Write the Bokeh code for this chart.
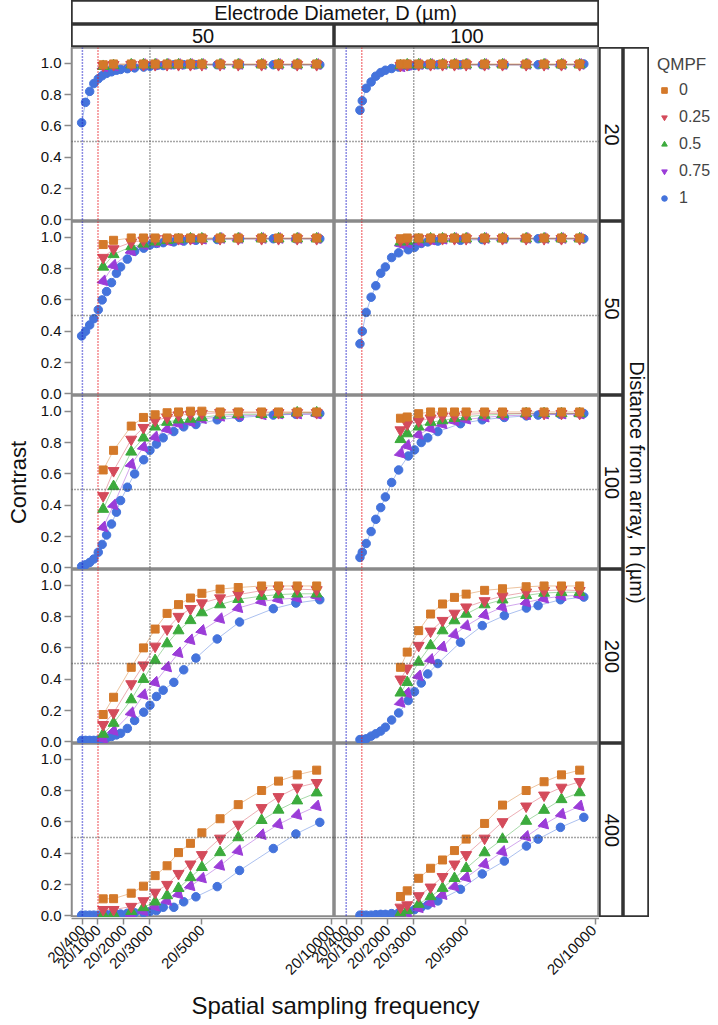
import math
from bokeh.plotting import figure
from bokeh.models import (ColumnDataSource, Span, Label, Legend, LegendItem,
                          FixedTicker, Range1d, GridBox)
from bokeh.embed import file_html
from bokeh.resources import INLINE

# ---------------- data ----------------
QMPF = ["0", "0.25", "0.5", "0.75", "1"]
DIAMETERS = ["50", "100"]
DISTANCES = ["20", "50", "100", "200", "400"]

X_TICKS = [400, 1000, 2000, 3000, 5000, 10000]
X_TICK_LABELS = ["20/400", "20/1000", "20/2000", "20/3000", "20/5000", "20/10000"]
Y_TICKS = [0.0, 0.2, 0.4, 0.6, 0.8, 1.0]
REF_X = [400, 1000, 3000]
REF_Y = [0.5]

# x positions (denominator of 20/x)
x_d50 = [1200, 1600, 2280, 2750, 3200, 3660, 4100, 4560, 5000, 5700, 6400, 7300, 7950, 8670, 9420]
x_d50_q1 = [370, 520, 680, 840, 1010, 1160, 1330, 1520, 1710, 1870, 2130, 2410, 2760, 3000,
            3250, 3510, 3920, 4300, 4770, 5590, 6450, 7750, 8620, 9540]
x_d100 = [2490, 2750, 3190, 3650, 4110, 4570, 5020, 5730, 6420, 7330, 8020, 8690, 9390]
x_d100_q1 = [930, 1020, 1170, 1360, 1540, 1730, 1910, 2150, 2420, 2790, 3030, 3290, 3540, 3930,
             4800, 5640, 6490, 7340, 7790, 8650, 9550]

# D = 50
d50_h20_q0 = [0.99, 0.995, 0.995, 0.995, 0.995, 0.995, 0.995, 0.995, 0.995, 0.995, 0.995, 0.995, 0.995, 0.995, 0.995]
d50_h20_q025 = [0.985, 0.99, 0.99, 0.99, 0.99, 0.99, 0.99, 0.99, 0.99, 0.99, 0.99, 0.99, 0.99, 0.99, 0.99]
d50_h20_q05 = [0.98, 0.985, 0.99, 0.99, 0.99, 0.99, 0.99, 0.99, 0.99, 0.99, 0.99, 0.99, 0.99, 0.99, 0.99]
d50_h20_q075 = [0.975, 0.98, 0.985, 0.99, 0.99, 0.99, 0.99, 0.99, 0.99, 0.99, 0.99, 0.99, 0.99, 0.99, 0.99]
d50_h20_q1 = [0.62, 0.75, 0.82, 0.87, 0.90, 0.92, 0.935, 0.945, 0.955, 0.96, 0.965, 0.97, 0.975, 0.98,
              0.985, 0.985, 0.99, 0.99, 0.99, 0.99, 0.99, 0.99, 0.99, 0.99]

d50_h50_q0 = [0.953, 0.98, 0.995, 0.995, 0.995, 0.995, 0.995, 0.995, 0.995, 0.995, 0.995, 0.995, 0.995, 0.995, 0.995]
d50_h50_q025 = [0.87, 0.925, 0.967, 0.98, 0.99, 0.99, 0.99, 0.99, 0.99, 0.99, 0.99, 0.99, 0.99, 0.99, 0.99]
d50_h50_q05 = [0.81, 0.89, 0.94, 0.957, 0.97, 0.98, 0.985, 0.99, 0.99, 0.99, 0.99, 0.99, 0.99, 0.99, 0.99]
d50_h50_q075 = [0.72, 0.82, 0.91, 0.95, 0.965, 0.975, 0.98, 0.985, 0.985, 0.99, 0.99, 0.99, 0.99, 0.99, 0.99]
d50_h50_q1 = [0.37, 0.40, 0.44, 0.48, 0.537, 0.60, 0.653, 0.71, 0.77, 0.81, 0.86, 0.91, 0.93, 0.95,
              0.96, 0.965, 0.97, 0.975, 0.98, 0.985, 0.99, 0.99, 0.99, 0.99]

d50_h100_q0 = [0.625, 0.75, 0.905, 0.96, 0.977, 0.99, 0.995, 1.0, 1.0, 0.995, 0.995, 0.995, 0.995, 0.995, 0.995]
d50_h100_q025 = [0.46, 0.62, 0.82, 0.895, 0.94, 0.96, 0.975, 0.98, 0.985, 0.99, 0.99, 0.99, 0.99, 0.99, 0.99]
d50_h100_q05 = [0.375, 0.52, 0.74, 0.83, 0.90, 0.93, 0.945, 0.95, 0.96, 0.975, 0.98, 0.98, 0.98, 0.99, 0.99]
d50_h100_q075 = [0.26, 0.40, 0.66, 0.77, 0.835, 0.885, 0.92, 0.93, 0.95, 0.965, 0.97, 0.975, 0.98, 0.98, 0.98]
d50_h100_q1 = [0.01, 0.02, 0.035, 0.057, 0.10, 0.15, 0.21, 0.28, 0.356, 0.43, 0.515, 0.60, 0.69, 0.75,
               0.79, 0.83, 0.87, 0.90, 0.915, 0.945, 0.96, 0.975, 0.98, 0.985]

d50_h200_q0 = [0.175, 0.285, 0.476, 0.60, 0.72, 0.82, 0.876, 0.918, 0.948, 0.975, 0.985, 0.995, 0.995, 0.995, 0.995]
d50_h200_q025 = [0.11, 0.185, 0.37, 0.49, 0.61, 0.72, 0.80, 0.85, 0.886, 0.918, 0.94, 0.965, 0.975, 0.975, 0.97]
d50_h200_q05 = [0.05, 0.12, 0.27, 0.40, 0.52, 0.627, 0.71, 0.775, 0.825, 0.876, 0.91, 0.93, 0.94, 0.945, 0.945]
d50_h200_q075 = [0.02, 0.07, 0.185, 0.30, 0.38, 0.476, 0.567, 0.65, 0.71, 0.785, 0.854, 0.897, 0.91, 0.918, 0.93]
d50_h200_q1 = [0.01, 0.01, 0.01, 0.01, 0.012, 0.015, 0.025, 0.035, 0.045, 0.055, 0.086, 0.137, 0.19, 0.234,
               0.29, 0.33, 0.38, 0.46, 0.535, 0.657, 0.765, 0.85, 0.886, 0.907]

d50_h400_q0 = [0.109, 0.11, 0.145, 0.19, 0.257, 0.32, 0.404, 0.463, 0.53, 0.62, 0.71, 0.80, 0.86, 0.90, 0.93]
d50_h400_q025 = [0.04, 0.04, 0.06, 0.096, 0.15, 0.20, 0.27, 0.33, 0.39, 0.495, 0.584, 0.69, 0.76, 0.82, 0.85]
d50_h400_q05 = [0.01, 0.015, 0.03, 0.054, 0.09, 0.13, 0.176, 0.245, 0.31, 0.405, 0.50, 0.61, 0.676, 0.735, 0.786]
d50_h400_q075 = [0.005, 0.005, 0.01, 0.03, 0.06, 0.096, 0.138, 0.19, 0.24, 0.32, 0.415, 0.517, 0.584, 0.644, 0.70]
d50_h400_q1 = [0.005, 0.005, 0.005, 0.005, 0.005, 0.005, 0.008, 0.01, 0.01, 0.012, 0.017, 0.02, 0.02, 0.028,
               0.034, 0.055, 0.055, 0.09, 0.122, 0.187, 0.29, 0.43, 0.523, 0.597]

# D = 100
d100_h20_q0 = [0.995, 0.995, 0.995, 0.995, 0.995, 0.995, 0.995, 0.995, 0.995, 0.995, 0.995, 0.995, 0.995]
d100_h20_q025 = [0.985, 0.99, 0.99, 0.99, 0.99, 0.99, 0.99, 0.99, 0.99, 0.99, 0.99, 0.99, 0.99]
d100_h20_q05 = [0.985, 0.99, 0.99, 0.99, 0.99, 0.99, 0.99, 0.99, 0.99, 0.99, 0.99, 0.99, 0.99]
d100_h20_q075 = [0.975, 0.985, 0.99, 0.99, 0.99, 0.99, 0.99, 0.99, 0.99, 0.99, 0.99, 0.99, 0.99]
d100_h20_q1 = [0.70, 0.76, 0.84, 0.88, 0.917, 0.94, 0.955, 0.966, 0.975, 0.98, 0.985, 0.99, 0.99, 0.99,
               0.99, 0.99, 0.99, 0.99, 0.99, 0.99, 0.995]

d100_h50_q0 = [0.99, 0.995, 0.995, 0.995, 0.995, 0.995, 0.995, 0.995, 0.995, 0.995, 0.995, 0.995, 0.995]
d100_h50_q025 = [0.98, 0.985, 0.99, 0.99, 0.99, 0.99, 0.99, 0.99, 0.99, 0.99, 0.99, 0.99, 0.99]
d100_h50_q05 = [0.97, 0.975, 0.985, 0.99, 0.99, 0.99, 0.99, 0.99, 0.99, 0.99, 0.99, 0.99, 0.99]
d100_h50_q075 = [0.955, 0.96, 0.97, 0.98, 0.985, 0.99, 0.99, 0.99, 0.99, 0.99, 0.99, 0.99, 0.99]
d100_h50_q1 = [0.32, 0.40, 0.52, 0.617, 0.69, 0.77, 0.81, 0.87, 0.90, 0.92, 0.935, 0.96, 0.97, 0.975,
               0.98, 0.985, 0.99, 0.99, 0.99, 0.99, 0.99]

d100_h100_q0 = [0.955, 0.963, 0.984, 0.995, 0.995, 0.995, 0.995, 0.995, 0.995, 0.995, 0.995, 0.995, 0.995]
d100_h100_q025 = [0.88, 0.917, 0.937, 0.955, 0.968, 0.968, 0.98, 0.985, 0.985, 0.985, 0.985, 0.985, 0.985]
d100_h100_q05 = [0.82, 0.857, 0.90, 0.93, 0.94, 0.955, 0.965, 0.975, 0.98, 0.985, 0.985, 0.985, 0.985]
d100_h100_q075 = [0.73, 0.78, 0.85, 0.89, 0.917, 0.937, 0.947, 0.96, 0.97, 0.975, 0.98, 0.98, 0.98]
d100_h100_q1 = [0.067, 0.10, 0.156, 0.232, 0.31, 0.385, 0.453, 0.545, 0.625, 0.714, 0.753, 0.80, 0.83, 0.87,
                0.92, 0.945, 0.96, 0.97, 0.975, 0.98, 0.985]

d100_h200_q0 = [0.476, 0.573, 0.71, 0.816, 0.88, 0.922, 0.943, 0.967, 0.977, 0.99, 0.995, 0.995, 0.995]
d100_h200_q025 = [0.40, 0.47, 0.615, 0.706, 0.774, 0.82, 0.86, 0.90, 0.93, 0.955, 0.965, 0.97, 0.965]
d100_h200_q05 = [0.313, 0.38, 0.51, 0.615, 0.71, 0.774, 0.816, 0.876, 0.907, 0.935, 0.95, 0.955, 0.955]
d100_h200_q075 = [0.25, 0.31, 0.42, 0.525, 0.605, 0.685, 0.74, 0.81, 0.86, 0.89, 0.915, 0.93, 0.935]
d100_h200_q1 = [0.015, 0.016, 0.02, 0.037, 0.052, 0.069, 0.094, 0.14, 0.185, 0.264, 0.32, 0.376, 0.434, 0.50,
                0.636, 0.742, 0.806, 0.854, 0.87, 0.907, 0.924]

d100_h400_q0 = [0.124, 0.16, 0.24, 0.304, 0.357, 0.417, 0.49, 0.59, 0.707, 0.80, 0.856, 0.90, 0.93]
d100_h400_q025 = [0.055, 0.07, 0.128, 0.183, 0.25, 0.33, 0.39, 0.495, 0.60, 0.70, 0.77, 0.82, 0.856]
d100_h400_q05 = [0.02, 0.035, 0.075, 0.124, 0.177, 0.24, 0.304, 0.404, 0.49, 0.605, 0.675, 0.743, 0.787]
d100_h400_q075 = [0.01, 0.02, 0.05, 0.085, 0.134, 0.187, 0.245, 0.33, 0.41, 0.506, 0.584, 0.648, 0.70]
d100_h400_q1 = [0.005, 0.005, 0.005, 0.005, 0.008, 0.01, 0.01, 0.015, 0.02, 0.03, 0.04, 0.055, 0.07, 0.096,
                0.17, 0.268, 0.35, 0.446, 0.49, 0.565, 0.629]

# tables built from the named arrays
X_OTHER = {"50": x_d50, "100": x_d100}
X_Q1 = {"50": x_d50_q1, "100": x_d100_q1}
SERIES = {
    ("50", "20"): [d50_h20_q0, d50_h20_q025, d50_h20_q05, d50_h20_q075, d50_h20_q1],
    ("50", "50"): [d50_h50_q0, d50_h50_q025, d50_h50_q05, d50_h50_q075, d50_h50_q1],
    ("50", "100"): [d50_h100_q0, d50_h100_q025, d50_h100_q05, d50_h100_q075, d50_h100_q1],
    ("50", "200"): [d50_h200_q0, d50_h200_q025, d50_h200_q05, d50_h200_q075, d50_h200_q1],
    ("50", "400"): [d50_h400_q0, d50_h400_q025, d50_h400_q05, d50_h400_q075, d50_h400_q1],
    ("100", "20"): [d100_h20_q0, d100_h20_q025, d100_h20_q05, d100_h20_q075, d100_h20_q1],
    ("100", "50"): [d100_h50_q0, d100_h50_q025, d100_h50_q05, d100_h50_q075, d100_h50_q1],
    ("100", "100"): [d100_h100_q0, d100_h100_q025, d100_h100_q05, d100_h100_q075, d100_h100_q1],
    ("100", "200"): [d100_h200_q0, d100_h200_q025, d100_h200_q05, d100_h200_q075, d100_h200_q1],
    ("100", "400"): [d100_h400_q0, d100_h400_q025, d100_h400_q05, d100_h400_q075, d100_h400_q1],
}

# ---------------- style ----------------
FONT = "Liberation Sans"
COLORS = ["#D4792A", "#D44B5B", "#3CAB3D", "#9B3CD8", "#4473DC"]
MARKERS = ["square", "inverted_triangle", "triangle", "inverted_triangle", "circle"]
MARKER_ANGLES = [0, 0, 0, math.pi / 4, 0]
MARKER_SIZES = [8, 11, 11, 11, 8.5]
LEGEND_SIZES = [10, 12, 12, 13, 10]
REF_X_COLORS = ["#1A1AC8", "#E8141C", "#4d4d4d"]
REF_Y_COLOR = "#4d4d4d"
REF_DASH = "1 2"
PANEL_GRAY = "#8a8a8a"
STRIP_LINE = "#333333"
FRAME_W = [263, 265]
FRAME_H = 174
X_RANGES = [(-20, 10106), (-50, 10154)]
Y_MIN, Y_MAX = -0.01, 1.1
YAX_W = 35
YLAB_W = 36
TOP_H1, TOP_H2 = 24, 23
XAX_B = 62
XTITLE_H = 38
RS_W, OUT_W, LEG_W = 24, 26, 69
NR = len(DISTANCES)
NC = len(DIAMETERS)


def bare(width=None, height=None, **kw):
    args = dict(x_range=Range1d(0, 1), y_range=Range1d(0, 1),
                output_backend="svg", toolbar_location=None,
                x_axis_location=None, y_axis_location=None, min_border=0,
                outline_line_color=None, background_fill_color="white",
                border_fill_color="white")
    if width is not None:
        args["width"] = width
    if height is not None:
        args["height"] = height
    args.update(kw)
    f = figure(**args)
    f.grid.visible = False
    return f


def panel(ci, ri):
    p = figure(frame_width=FRAME_W[ci], frame_height=FRAME_H,
               x_range=Range1d(*X_RANGES[ci]), y_range=Range1d(Y_MIN, Y_MAX),
               x_axis_location=None, y_axis_location=None, min_border=0,
               output_backend="svg", toolbar_location=None,
               outline_line_color=PANEL_GRAY, outline_line_width=2.5,
               background_fill_color="white", border_fill_color="white")
    p.grid.visible = False
    for xv, col in zip(REF_X, REF_X_COLORS):
        p.add_layout(Span(location=xv, dimension="height", line_color=col,
                          line_dash=REF_DASH, line_width=1.5))
    for yv in REF_Y:
        p.add_layout(Span(location=yv, dimension="width", line_color=REF_Y_COLOR,
                          line_dash=REF_DASH, line_width=1.5))
    d = DIAMETERS[ci]
    h = DISTANCES[ri]
    srcs = []
    for qi in range(len(QMPF)):
        xs = X_Q1[d] if qi == 4 else X_OTHER[d]
        srcs.append(ColumnDataSource(dict(x=xs, y=SERIES[(d, h)][qi])))
    for qi in reversed(range(len(QMPF))):
        p.line("x", "y", source=srcs[qi], line_color=COLORS[qi], line_alpha=0.45, line_width=1)
    for qi in reversed(range(len(QMPF))):
        p.scatter("x", "y", source=srcs[qi], marker=MARKERS[qi], angle=MARKER_ANGLES[qi],
                  size=MARKER_SIZES[qi], color=COLORS[qi])
    return p


def strip(width, height, text, angle=0.0, size="20px", x=0.5, outline=True):
    f = bare(width, height, outline_line_color=STRIP_LINE if outline else None,
             outline_line_width=2.5)
    f.add_layout(Label(x=x, y=0.5, text=text, text_align="center", text_baseline="middle",
                       angle=angle, text_font=FONT, text_font_size=size, text_color="#111111"))
    return f


def style_axis(ax, tick_out):
    ax.axis_line_color = PANEL_GRAY
    ax.axis_line_width = 1.5
    ax.major_tick_line_color = PANEL_GRAY
    ax.major_tick_line_width = 1.5
    ax.major_tick_out = tick_out
    ax.major_tick_in = 0
    ax.minor_tick_line_color = None
    ax.major_label_standoff = 3
    ax.major_label_text_font = FONT
    ax.major_label_text_font_size = "15px"
    ax.major_label_text_color = "#111111"


# shared y axis for the five rows (one canvas, so no label is clipped)
row_span = Y_MAX - Y_MIN
y_stack_ticks = []
y_stack_labels = {}
for ri in range(NR):
    base = (NR - 1 - ri) * row_span
    for v in Y_TICKS:
        t = round(base + v, 6)
        y_stack_ticks.append(t)
        y_stack_labels[t] = "%.1f" % v
yf = figure(frame_width=1, frame_height=FRAME_H * NR,
            x_range=Range1d(0, 1), y_range=Range1d(Y_MIN, Y_MIN + NR * row_span),
            x_axis_location=None, y_axis_location="left",
            min_border_left=YAX_W - 1, min_border_right=0, min_border_top=0, min_border_bottom=8,
            output_backend="svg", toolbar_location=None, outline_line_color=None,
            background_fill_alpha=0, border_fill_alpha=0)
yf.grid.visible = False
yax = yf.yaxis[0]
yax.ticker = FixedTicker(ticks=y_stack_ticks)
yax.major_label_overrides = y_stack_labels
style_axis(yax, 7)

# shared x axis for the two columns
x_stack_ticks = []
x_stack_labels = {}
offset = 0.0
for ci in range(NC):
    lo, hi = X_RANGES[ci]
    for t, lab in zip(X_TICKS, X_TICK_LABELS):
        s = round(offset + (t - lo), 6)
        x_stack_ticks.append(s)
        x_stack_labels[s] = lab
    offset += hi - lo
xf = figure(frame_width=sum(FRAME_W), frame_height=1,
            x_range=Range1d(0, offset), y_range=Range1d(0, 1),
            x_axis_location="below", y_axis_location=None,
            min_border_left=YAX_W, min_border_right=0, min_border_top=0, min_border_bottom=XAX_B,
            output_backend="svg", toolbar_location=None, outline_line_color=None,
            background_fill_alpha=0, border_fill_alpha=0)
xf.grid.visible = False
xax = xf.xaxis[0]
xax.ticker = FixedTicker(ticks=x_stack_ticks)
xax.major_label_overrides = x_stack_labels
xax.major_label_orientation = math.pi / 4
style_axis(xax, 6)

# legend figure (hidden renderers only feed the legend keys)
lf = bare(LEG_W, FRAME_H * NR)
lr = []
for qi in range(len(QMPF)):
    xs = X_Q1["100"] if qi == 4 else X_OTHER["100"]
    src = ColumnDataSource(dict(x=xs, y=SERIES[("100", "20")][qi]))
    r = lf.scatter("x", "y", source=src, marker=MARKERS[qi], angle=MARKER_ANGLES[qi],
                   size=LEGEND_SIZES[qi], color=COLORS[qi])
    r.visible = False
    lr.append(r)
legend = Legend(items=[LegendItem(label=q, renderers=[r]) for q, r in zip(QMPF, lr)],
                title="QMPF", location="top_left", orientation="vertical",
                border_line_color=None, background_fill_alpha=0,
                inactive_fill_alpha=0, click_policy="none",
                label_text_font=FONT, label_text_font_size="16px",
                title_text_font=FONT, title_text_font_size="17px", title_text_font_style="normal",
                glyph_width=14, glyph_height=18, spacing=9, padding=5, margin=8,
                label_standoff=8, title_standoff=6)
lf.add_layout(legend)

# ---------------- grid ----------------
R_S1, R_S2, R_P0 = 0, 1, 2
R_XAX = R_P0 + NR
R_XT = R_XAX + 1
C_YL, C_YA, C_P0 = 0, 1, 2
C_RS = C_P0 + NC
C_OUT = C_RS + 1
C_LEG = C_OUT + 1

children = []
children.append((strip(sum(FRAME_W), TOP_H1, "Electrode Diameter, D (\u00b5m)"), R_S1, C_P0, 1, NC))
for ci in range(NC):
    children.append((strip(FRAME_W[ci], TOP_H2, DIAMETERS[ci]), R_S2, C_P0 + ci))
for ci in range(NC):
    for ri in range(NR):
        children.append((panel(ci, ri), R_P0 + ri, C_P0 + ci))
for ri in range(NR):
    children.append((strip(RS_W, FRAME_H, DISTANCES[ri], angle=-math.pi / 2), R_P0 + ri, C_RS))
children.append((strip(OUT_W, FRAME_H * NR, "Distance from array, h (\u00b5m)", angle=-math.pi / 2),
                 R_P0, C_OUT, NR, 1))
children.append((lf, R_P0, C_LEG, NR, 1))
children.append((strip(YLAB_W, FRAME_H * NR, "Contrast", angle=math.pi / 2, size="22px",
                       outline=False), R_P0, C_YL, NR, 1))
children.append((xf, R_XAX, C_YA, 1, NC + 1))
children.append((yf, R_P0, C_YA, NR + 1, 1))
children.append((strip(sum(FRAME_W), XTITLE_H, "Spatial sampling frequency", size="24px",
                       outline=False), R_XT, C_P0, 1, NC))

COL_WIDTHS = [YLAB_W, YAX_W, FRAME_W[0], FRAME_W[1], RS_W, OUT_W, LEG_W]
grid = GridBox(children=children, spacing=0, cols=["%dpx" % w for w in COL_WIDTHS])

open("out.html", "w").write(file_html(grid, INLINE))
